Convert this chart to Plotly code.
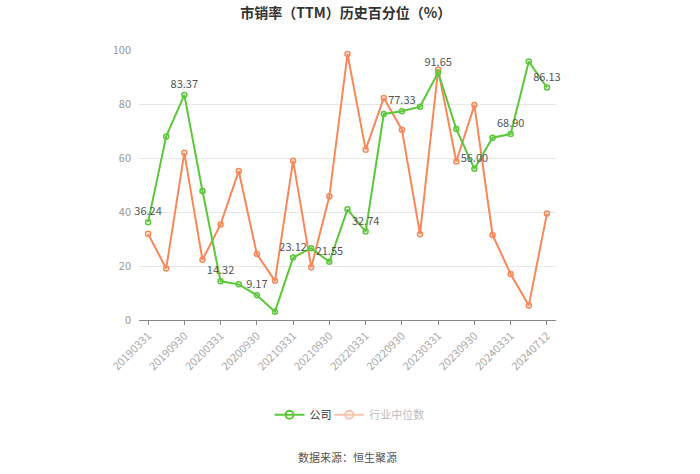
import plotly.graph_objects as go

dates = ["20190331", "20190630", "20190930", "20191231", "20200331", "20200630",
         "20200930", "20201231", "20210331", "20210630", "20210930", "20211231",
         "20220331", "20220630", "20220930", "20221231", "20230331", "20230630",
         "20230930", "20231231", "20240331", "20240630", "20240712"]

company = [36.24, 68.0, 83.37, 47.8, 14.32, 13.2, 9.17, 3.1, 23.12, 26.6, 21.55, 41.0,
           32.74, 76.3, 77.33, 79.0, 91.65, 70.7, 56.00, 67.5, 68.90, 95.7, 86.13]

industry = [31.9, 19.1, 61.9, 22.3, 35.4, 55.2, 24.4, 14.5, 59.0, 19.5, 45.8, 98.5,
            63.1, 82.2, 70.5, 31.8, 92.8, 58.7, 79.6, 31.5, 17.0, 5.4, 39.4]

tick_labels = dates[::2]

green = "#5cc73a"
orange = "#f8875a"
font = "Noto Sans CJK SC"

labels = [f"{v:.2f}" if i % 2 == 0 else "" for i, v in enumerate(company)]

fig = go.Figure()
fig.add_trace(go.Scatter(
    x=dates, y=industry, mode="lines+markers", showlegend=False,
    line=dict(color=orange, width=2),
    marker=dict(symbol="circle-open", size=5, color=orange, line=dict(width=1.5)),
))
fig.add_trace(go.Scatter(
    x=dates, y=company, mode="lines+markers+text", showlegend=False,
    text=labels, textposition="top center", cliponaxis=False,
    textfont=dict(size=11, color="#555", family=font),
    line=dict(color=green, width=2),
    marker=dict(symbol="circle-open", size=5, color=green, line=dict(width=1.5)),
))
# legend entries, one legend each so they can sit close together
fig.add_trace(go.Scatter(
    x=[None], y=[None], mode="lines+markers", name="公司", legend="legend",
    line=dict(color=green, width=2),
    marker=dict(symbol="circle-open", size=8, color=green, line=dict(width=2)),
))
fig.add_trace(go.Scatter(
    x=[None], y=[None], mode="lines+markers", legend="legend2",
    name='<span style="color:#bbbbbb">行业中位数</span>',
    line=dict(color="#f9c4ad", width=2),
    marker=dict(symbol="circle-open", size=8, color="#f9c4ad", line=dict(width=2)),
))

fig.update_layout(
    width=700, height=474,
    margin=dict(l=139, r=144, t=50, b=154),
    paper_bgcolor="white", plot_bgcolor="white",
    font=dict(family=font, color="#999", size=11),
    title=dict(text="<b>市销率（TTM）历史百分位（%）</b>", x=0.494, xanchor="center",
               y=0.972, yanchor="middle", font=dict(size=14, color="#333", family=font)),
    legend=dict(orientation="h", x=0.313, xanchor="left", y=-0.351, yanchor="middle",
                bgcolor="rgba(0,0,0,0)",
                font=dict(size=11, color="#333", family=font), itemwidth=30),
    legend2=dict(orientation="h", x=0.456, xanchor="left", y=-0.351, yanchor="middle",
                 bgcolor="rgba(0,0,0,0)",
                 font=dict(size=11, color="#333", family=font), itemwidth=30),
    xaxis=dict(type="category", range=[-0.5, 22.5], tickmode="array",
               tickvals=tick_labels, ticktext=tick_labels, tickangle=-45,
               showline=True, linecolor="#888", linewidth=1, ticks="outside",
               ticklen=4, tickcolor="#888", showgrid=False,
               tickfont=dict(size=11, color="#aaa")),
    yaxis=dict(range=[0, 100], tickvals=[0, 20, 40, 60, 80, 100], showline=False,
               gridcolor="#e8e8e8", zeroline=False, ticks="", ticklen=0,
               ticklabelstandoff=7, tickfont=dict(size=11, color="#999")),
    annotations=[dict(text="数据来源：恒生聚源", xref="paper", yref="paper",
                      x=0.5, y=-0.506, xanchor="center", yanchor="middle",
                      showarrow=False, font=dict(size=11, color="#555", family=font))],
)

fig.write_html("out.html", config={"displayModeBar": False},
               post_script="document.body.style.margin='0';")
